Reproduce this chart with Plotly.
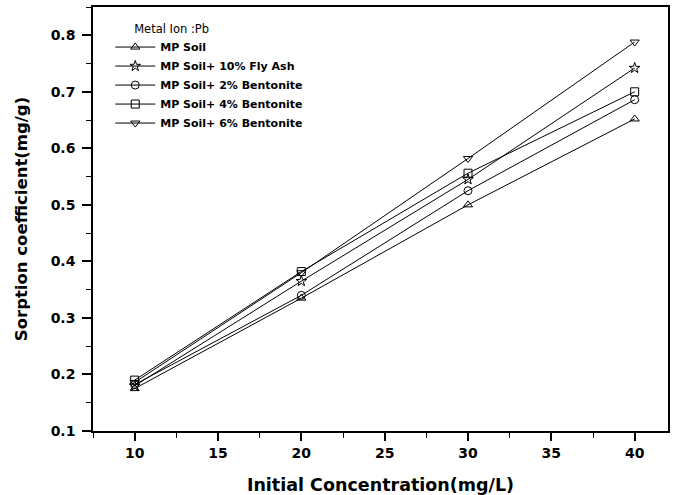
import plotly.graph_objects as go

x_conc = [10, 20, 30, 40]
mp_soil = [0.175, 0.335, 0.500, 0.652]
fly_ash_10 = [0.180, 0.365, 0.545, 0.742]
bentonite_2 = [0.182, 0.340, 0.525, 0.686]
bentonite_4 = [0.190, 0.382, 0.556, 0.700]
bentonite_6 = [0.186, 0.380, 0.582, 0.788]

series = [
    ("MP Soil", mp_soil, "triangle-up-open"),
    ("MP Soil+ 10% Fly Ash", fly_ash_10, "star-open"),
    ("MP Soil+ 2% Bentonite", bentonite_2, "circle-open"),
    ("MP Soil+ 4% Bentonite", bentonite_4, "square-open"),
    ("MP Soil+ 6% Bentonite", bentonite_6, "triangle-down-open"),
]

tick_family = "DejaVu Sans, Arial, sans-serif"
legend_family = "DejaVu Sans, Arial, sans-serif"

fig = go.Figure()
for name, ys, sym in series:
    fig.add_trace(go.Scatter(
        x=x_conc, y=ys, name=name, mode="lines+markers",
        line=dict(color="black", width=1),
        marker=dict(symbol=sym, size=8, color="black", line=dict(color="black", width=1)),
    ))

axis_common = dict(
    showline=True, linecolor="black", linewidth=1.5, mirror=True,
    ticks="outside", tickwidth=1.5, tickcolor="black",
    showgrid=False, zeroline=False, automargin=False,
    tickfont=dict(family=tick_family, size=14, color="black", weight="bold"),
)

fig.update_xaxes(
    range=[7.5, 42], tickvals=[10, 15, 20, 25, 30, 35, 40], ticklen=8,
    minor=dict(ticks="outside", ticklen=5, tickwidth=1.2, tickcolor="black", dtick=2.5, tick0=7.5),
    title=dict(text="Initial Concentration(mg/L)", standoff=21,
               font=dict(family=tick_family, size=17.5, color="black", weight="bold")),
    **axis_common,
)
fig.update_yaxes(
    range=[0.1, 0.85], tickvals=[0.1, 0.2, 0.3, 0.4, 0.5, 0.6, 0.7, 0.8], ticklen=9,
    ticklabelstandoff=4,
    minor=dict(ticks="outside", ticklen=5, tickwidth=1.2, tickcolor="black", dtick=0.05, tick0=0.1),
    title=dict(text="Sorption coefficient(mg/g)", standoff=19,
               font=dict(family=tick_family, size=16.5, color="black", weight="bold")),
    **axis_common,
)

fig.update_layout(
    width=675, height=495,
    margin=dict(l=93, r=7, t=7, b=64),
    paper_bgcolor="white", plot_bgcolor="white",
    showlegend=True,
    legend=dict(
        x=0.03, y=0.975, xanchor="left", yanchor="top",
        bgcolor="rgba(0,0,0,0)",
        title=dict(text="      Metal Ion :Pb",
                   font=dict(family=legend_family, size=11.5, color="black", weight="normal")),
        font=dict(family=legend_family, size=11, color="black", weight="bold"),
        tracegroupgap=0, itemwidth=40,
    ),
)

fig.write_html("out.html")
